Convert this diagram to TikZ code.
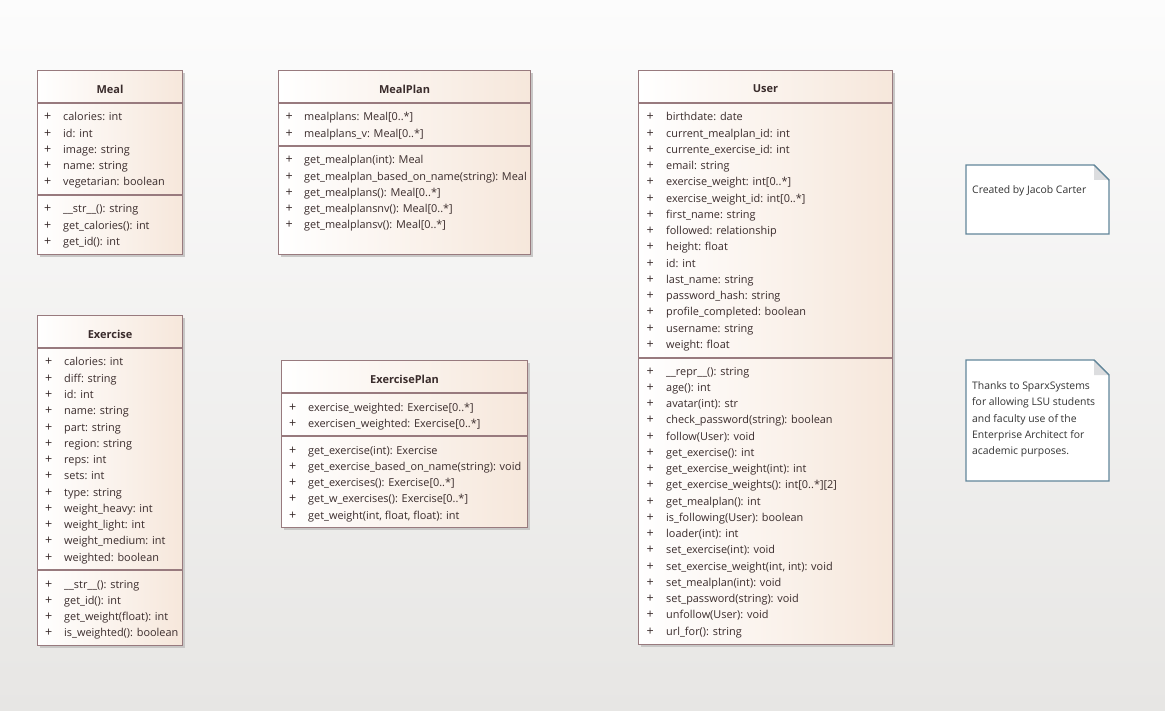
\documentclass[tikz,border=0pt]{standalone}
\usepackage{fontspec}
\setmainfont{Open Sans}
\usetikzlibrary{positioning}

\definecolor{umlborder}{RGB}{152,122,126}
\definecolor{umlfill}{RGB}{246,231,219}
\definecolor{umltext}{RGB}{58,44,44}
\definecolor{notedge}{RGB}{98,134,154}
\definecolor{notefold}{RGB}{220,221,223}
\definecolor{shadowgray}{RGB}{200,199,198}
\definecolor{bgtop}{RGB}{252,252,252}
\definecolor{bgbottom}{RGB}{231,230,228}

\tikzset{
  classbox/.style={draw=umlborder, line width=1.1pt, left color=white, right color=umlfill,
    anchor=north west, inner sep=0pt},
  boxshadow/.style={fill=shadowgray},
  classline/.style={umlborder, line width=1.1pt},
  classname/.style={font=\bfseries\fontsize{11}{14}\selectfont, text=umltext, inner sep=0pt},
  plus/.style={font=\fontsize{12.5}{14}\selectfont, text=umltext, anchor=base west, inner sep=0pt},
  member/.style={plus, font=\fontsize{10.9}{14}\selectfont},
  notebox/.style={draw=notedge, line width=1.1pt, fill=white},
  notetext/.style={font=\fontsize{10.4}{16.3}\selectfont, text=black!80, inner sep=0pt}
}

% prefix, x of +, x of text, first baseline, members
\newcommand{\members}[5]{%
  \foreach \m [count=\i] in {#5} {
    \node[plus] (#1p\i) at (#2, #4+16.25*\i-16.25) {+};
    \node[member] (#1m\i) at (#3, #4+16.25*\i-16.25) {\m};
  }}

\begin{document}
\begin{tikzpicture}[x=1pt, y=-1pt]
    \useasboundingbox (0,0) rectangle (1165,711);
    \fill[top color=bgtop, bottom color=bgbottom] (0,0) rectangle (1165,711);

    % Meal
    \fill[boxshadow] (40,73) rectangle (185,257);
    \node[classbox, minimum width=145, minimum height=184] (meal) at (37,70) {};
    \node[classname] (mealT) at (meal.north |- 0,89) {Meal};
    \draw[classline] (meal.west |- 0,103) -- (meal.east |- 0,103);
    \draw[classline] (meal.west |- 0,195) -- (meal.east |- 0,195);
    \members{mealA}{44}{63}{121}{calories: int, id: int, image: string, name: string, vegetarian: boolean}
    \members{mealO}{44}{63}{213}{\_\_str\_\_(): string, get\_calories(): int, get\_id(): int}

    % MealPlan
    \fill[boxshadow] (281,73) rectangle (533,257);
    \node[classbox, minimum width=252, minimum height=184] (mealplan) at (278,70) {};
    \node[classname] (mealplanT) at (mealplan.north |- 0,89) {MealPlan};
    \draw[classline] (mealplan.west |- 0,103) -- (mealplan.east |- 0,103);
    \draw[classline] (mealplan.west |- 0,146) -- (mealplan.east |- 0,146);
    \members{mealplanA}{285.5}{304}{121}{mealplans: Meal[0..*], mealplans\_v: Meal[0..*]}
    \members{mealplanO}{285.5}{304}{164}{get\_mealplan(int): Meal, get\_mealplan\_based\_on\_name(string): Meal,
      get\_mealplans(): Meal[0..*], get\_mealplansnv(): Meal[0..*], get\_mealplansv(): Meal[0..*]}

    % User
    \fill[boxshadow] (641,73) rectangle (895,647);
    \node[classbox, minimum width=254, minimum height=574] (user) at (638,70) {};
    \node[classname] (userT) at (user.north |- 0,89) {User};
    \draw[classline] (user.west |- 0,103) -- (user.east |- 0,103);
    \draw[classline] (user.west |- 0,358) -- (user.east |- 0,358);
    \members{userA}{646.5}{666}{121}{birthdate: date, current\_mealplan\_id: int, currente\_exercise\_id: int,
      email: string, exercise\_weight: int[0..*], exercise\_weight\_id: int[0..*], first\_name: string,
      followed: relationship, height: float, id: int, last\_name: string, password\_hash: string,
      profile\_completed: boolean, username: string, weight: float}
    \members{userO}{646.5}{666}{375}{\_\_repr\_\_(): string, age(): int, avatar(int): str,
      check\_password(string): boolean, follow(User): void, get\_exercise(): int,
      get\_exercise\_weight(int): int, get\_exercise\_weights(): int[0..*][2], get\_mealplan(): int,
      is\_following(User): boolean, loader(int): int, set\_exercise(int): void,
      {set\_exercise\_weight(int, int): void}, set\_mealplan(int): void, set\_password(string): void,
      unfollow(User): void, url\_for(): string}

    % Exercise
    \fill[boxshadow] (40,318) rectangle (185,648);
    \node[classbox, minimum width=145, minimum height=330] (exercise) at (37,315) {};
    \node[classname] (exerciseT) at (exercise.north |- 0,334) {Exercise};
    \draw[classline] (exercise.west |- 0,348) -- (exercise.east |- 0,348);
    \draw[classline] (exercise.west |- 0,570) -- (exercise.east |- 0,570);
    \members{exerciseA}{45}{64}{366}{calories: int, diff: string, id: int, name: string, part: string,
      region: string, reps: int, sets: int, type: string, weight\_heavy: int, weight\_light: int,
      weight\_medium: int, weighted: boolean}
    \members{exerciseO}{45}{64}{588}{\_\_str\_\_(): string, get\_id(): int, get\_weight(float): int,
      is\_weighted(): boolean}

    % ExercisePlan
    \fill[boxshadow] (284,363) rectangle (530,530);
    \node[classbox, minimum width=246, minimum height=167] (exerciseplan) at (281,360) {};
    \node[classname] (exerciseplanT) at (exerciseplan.north |- 0,379) {ExercisePlan};
    \draw[classline] (exerciseplan.west |- 0,393) -- (exerciseplan.east |- 0,393);
    \draw[classline] (exerciseplan.west |- 0,436) -- (exerciseplan.east |- 0,436);
    \members{exerciseplanA}{289}{308}{411}{exercise\_weighted: Exercise[0..*], exercisen\_weighted: Exercise[0..*]}
    \members{exerciseplanO}{289}{308}{454}{get\_exercise(int): Exercise, get\_exercise\_based\_on\_name(string): void,
      get\_exercises(): Exercise[0..*], get\_w\_exercises(): Exercise[0..*], {get\_weight(int, float, float): int}}

    % notes
    \draw[notebox] (966,165) -- (1094,165) -- (1109,180) -- (1109,234) -- (966,234) -- cycle;
    \fill[notefold] (1094,165) -- (1094,180) -- (1109,180) -- cycle;
    \draw[notedge, line width=1.1pt] (1094,165) -- (1109,180);
    \node[notetext, anchor=base west] (credit) at (972,194) {Created by Jacob Carter};

    \draw[notebox] (966,360) -- (1094,360) -- (1109,375) -- (1109,481) -- (966,481) -- cycle;
    \fill[notefold] (1094,360) -- (1094,375) -- (1109,375) -- cycle;
    \draw[notedge, line width=1.1pt] (1094,360) -- (1109,375);
    \node[notetext, align=left, anchor=north west] (thanks) at (972,381.5) {Thanks to SparxSystems\\
      for allowing LSU students\\ and faculty use of the\\ Enterprise Architect for\\ academic purposes.};
\end{tikzpicture}
\end{document}
